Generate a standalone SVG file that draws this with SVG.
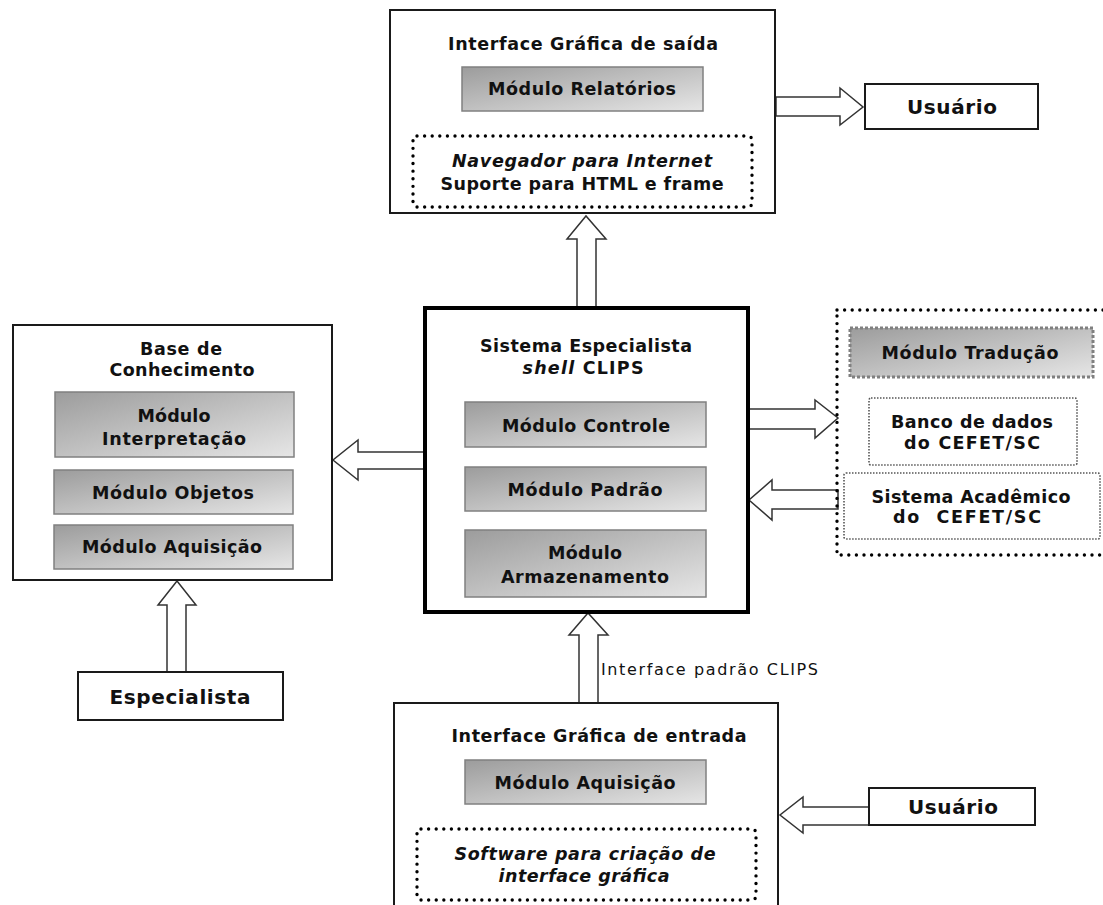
<svg xmlns="http://www.w3.org/2000/svg" width="1103" height="905" viewBox="0 0 1103 905">
  <defs>
    <linearGradient id="modFill" x1="0" y1="0" x2="1" y2="1">
      <stop offset="0" stop-color="#9c9c9c"/>
      <stop offset="1" stop-color="#e6e6e6"/>
    </linearGradient>
    <style>
      .box { fill: #ffffff; stroke: #1a1a1a; stroke-width: 2; }
      .core { fill: #ffffff; stroke: #000000; stroke-width: 4; }
      .mod { fill: url(#modFill); stroke: #808080; stroke-width: 1.5; }
      .modDash { fill: url(#modFill); stroke: #808080; stroke-width: 3; stroke-dasharray: 3 2; }
      .dots { fill: none; stroke: #000000; stroke-width: 3.4; stroke-linecap: round; stroke-dasharray: 0 7.6; }
      .fine { fill: #ffffff; stroke: #555555; stroke-width: 1.6; stroke-dasharray: 1.5 1.5; }
      .arrow { fill: #ffffff; stroke: #333333; stroke-width: 1.5; stroke-linejoin: miter; }
      text { font-family: "DejaVu Sans", Verdana, sans-serif; font-size: 17.5px; font-weight: bold; fill: #111111; text-anchor: middle; }
      .it { font-style: italic; }
      .big { font-size: 20px; }
      .plain { font-weight: normal; font-size: 16px; text-anchor: start; }
    </style>
  </defs>

  <!-- connectors: hollow block arrows -->
  <g id="connectors">
    <!-- core up to output interface -->
    <polygon class="arrow" points="577,308 577,239 567,239 586,216 606,239 596,239 596,308"/>
    <!-- core to knowledge base -->
    <polygon class="arrow" points="425,452 358,452 358,440 333,460 358,480 358,469 425,469"/>
    <!-- specialist up to knowledge base -->
    <polygon class="arrow" points="167,672 167,605 158,605 177,581 196,605 186,605 186,672"/>
    <!-- core to translation group -->
    <polygon class="arrow" points="748,409 815,409 815,400 838,418 815,438 815,429 748,429"/>
    <!-- translation group back to core -->
    <polygon class="arrow" points="838,490 772,490 772,480 749,500 772,520 772,509 838,509"/>
    <!-- output interface to user -->
    <polygon class="arrow" points="776,97 840,97 840,88 863,107 840,125 840,116 776,116"/>
    <!-- input interface up to core -->
    <polygon class="arrow" points="579,703 579,635 569,635 588,613 608,635 598,635 598,703"/>
    <!-- user to input interface -->
    <polygon class="arrow" points="869,807 803,807 803,797 780,815 803,833 803,825 869,825"/>
    <text class="plain" x="601" y="675" textLength="217" lengthAdjust="spacing">Interface padrão CLIPS</text>
  </g>

  <!-- output graphical interface -->
  <g id="interface-saida">
    <rect class="box" x="390" y="10" width="385" height="203"/>
    <text x="583" y="50" textLength="270" lengthAdjust="spacing">Interface Gráfica de saída</text>
    <rect class="mod" x="462" y="67" width="241" height="44"/>
    <text x="582" y="95" textLength="188" lengthAdjust="spacing">Módulo Relatórios</text>
    <rect class="dots" x="413" y="136" width="339" height="71" rx="4"/>
    <text class="it" x="582" y="167" textLength="260" lengthAdjust="spacing">Navegador para Internet</text>
    <text x="582" y="190" textLength="283" lengthAdjust="spacing">Suporte para HTML e frame</text>
  </g>

  <!-- user (top) -->
  <g id="usuario-saida">
    <rect class="box" x="865" y="84" width="173" height="45"/>
    <text class="big" x="952" y="114" textLength="90" lengthAdjust="spacing">Usuário</text>
  </g>

  <!-- expert system core -->
  <g id="sistema-especialista">
    <rect class="core" x="425" y="308" width="323" height="304"/>
    <text x="586" y="352" textLength="212" lengthAdjust="spacing">Sistema Especialista</text>
    <text x="583" y="374" textLength="121" lengthAdjust="spacing"><tspan class="it">shell</tspan> CLIPS</text>
    <rect class="mod" x="465" y="402" width="241" height="45"/>
    <text x="586" y="432" textLength="168" lengthAdjust="spacing">Módulo Controle</text>
    <rect class="mod" x="465" y="467" width="241" height="44"/>
    <text x="585" y="496" textLength="155" lengthAdjust="spacing">Módulo Padrão</text>
    <rect class="mod" x="465" y="530" width="241" height="67"/>
    <text x="585" y="559" textLength="74" lengthAdjust="spacing">Módulo</text>
    <text x="585" y="583" textLength="168" lengthAdjust="spacing">Armazenamento</text>
  </g>

  <!-- knowledge base -->
  <g id="base-conhecimento">
    <rect class="box" x="13" y="325" width="319" height="255"/>
    <text x="181" y="355" textLength="82" lengthAdjust="spacing">Base de</text>
    <text x="182" y="376" textLength="145" lengthAdjust="spacing">Conhecimento</text>
    <rect class="mod" x="55" y="392" width="239" height="65"/>
    <text x="174" y="422" textLength="73" lengthAdjust="spacing">Módulo</text>
    <text x="174" y="445" textLength="144" lengthAdjust="spacing">Interpretação</text>
    <rect class="mod" x="54" y="470" width="239" height="44"/>
    <text x="173" y="499" textLength="162" lengthAdjust="spacing">Módulo Objetos</text>
    <rect class="mod" x="54" y="525" width="239" height="44"/>
    <text x="172" y="553" textLength="180" lengthAdjust="spacing">Módulo Aquisição</text>
  </g>

  <!-- specialist -->
  <g id="especialista">
    <rect class="box" x="78" y="672" width="205" height="48"/>
    <text class="big" x="180" y="704" textLength="141" lengthAdjust="spacing">Especialista</text>
  </g>

  <!-- translation / academic data group -->
  <g id="grupo-traducao">
    <rect class="dots" x="837" y="310" width="290" height="245"/>
    <rect class="modDash" x="850" y="328" width="243" height="49"/>
    <text x="970" y="359" textLength="177" lengthAdjust="spacing">Módulo Tradução</text>
    <rect class="fine" x="869" y="398" width="208" height="67" rx="2"/>
    <text x="972" y="428" textLength="162" lengthAdjust="spacing">Banco de dados</text>
    <text x="972" y="449" textLength="136" lengthAdjust="spacing">do CEFET/SC</text>
    <rect class="fine" x="844" y="473" width="256" height="66" rx="2"/>
    <text x="971" y="503" textLength="199" lengthAdjust="spacing">Sistema Acadêmico</text>
    <text x="967" y="523" textLength="148" lengthAdjust="spacing" xml:space="preserve">do  CEFET/SC</text>
  </g>

  <!-- input graphical interface -->
  <g id="interface-entrada">
    <rect class="box" x="394" y="703" width="384" height="220"/>
    <text x="599" y="742" textLength="295" lengthAdjust="spacing">Interface Gráfica de entrada</text>
    <rect class="mod" x="465" y="760" width="241" height="44"/>
    <text x="585" y="789" textLength="181" lengthAdjust="spacing">Módulo Aquisição</text>
    <rect class="dots" x="417" y="829" width="339" height="71" rx="4"/>
    <text class="it" x="585" y="860" textLength="261" lengthAdjust="spacing">Software para criação de</text>
    <text class="it" x="584" y="882" textLength="171" lengthAdjust="spacing">interface gráfica</text>
  </g>

  <!-- user (bottom) -->
  <g id="usuario-entrada">
    <rect class="box" x="869" y="788" width="166" height="37"/>
    <text class="big" x="953" y="814" textLength="90" lengthAdjust="spacing">Usuário</text>
  </g>
</svg>
